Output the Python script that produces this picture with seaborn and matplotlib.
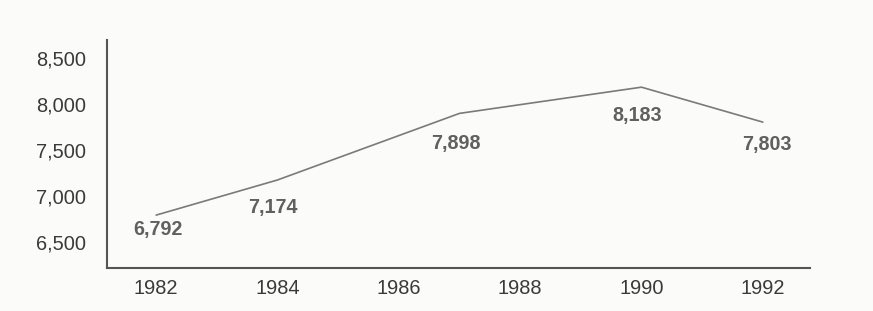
import matplotlib
matplotlib.use("Agg")
import matplotlib.pyplot as plt
import seaborn as sns
import pandas as pd

years = [1982, 1984, 1987, 1990, 1992]
values = [6792, 7174, 7898, 8183, 7803]
xtick_years = [1982, 1984, 1986, 1988, 1990, 1992]
ytick_values = [6500, 7000, 7500, 8000, 8500]

df = pd.DataFrame({"year": years, "value": values})

sns.set_style("white")
plt.rcParams["font.family"] = ["Liberation Sans", "DejaVu Sans"]

fig = plt.figure(figsize=(8.73, 3.11), dpi=100, facecolor="#fbfbfa")
ax = fig.add_axes([0.1226, 0.1383, 0.8054, 0.7331])
ax.set_facecolor("#fbfbfa")

sns.lineplot(data=df, x="year", y="value", ax=ax, color="#7a7a7a", linewidth=1.2)

ax.set_xlim(1981.19, 1992.78)
ax.set_ylim(6217, 8696)
ax.set_xticks(xtick_years)
ax.set_xticklabels([str(y) for y in xtick_years])
ax.set_yticks(ytick_values)
ax.set_yticklabels([f"{v:,}" for v in ytick_values])
ax.tick_params(axis="both", length=0, labelsize=14.4, labelcolor="#3a3a3a")
ax.tick_params(axis="x", pad=8)
ax.tick_params(axis="y", pad=15)
ax.set_xlabel("")
ax.set_ylabel("")

for s in ["top", "right"]:
    ax.spines[s].set_visible(False)
for s in ["left", "bottom"]:
    ax.spines[s].set_color("#555555")
    ax.spines[s].set_linewidth(1.5)

# label offsets in pixels (layout only)
offsets = [(2, -14), (-5, -28), (-4, -30), (-4, -28), (4, -22)]
for (x, y), (dx, dy) in zip(zip(years, values), offsets):
    ax.annotate(f"{y:,}", xy=(x, y), xytext=(dx * 0.72, dy * 0.72),
                textcoords="offset points", ha="center", va="center",
                fontsize=14.2, fontweight="bold", color="#606060")

fig.savefig("out.png", dpi=100, facecolor=fig.get_facecolor())
